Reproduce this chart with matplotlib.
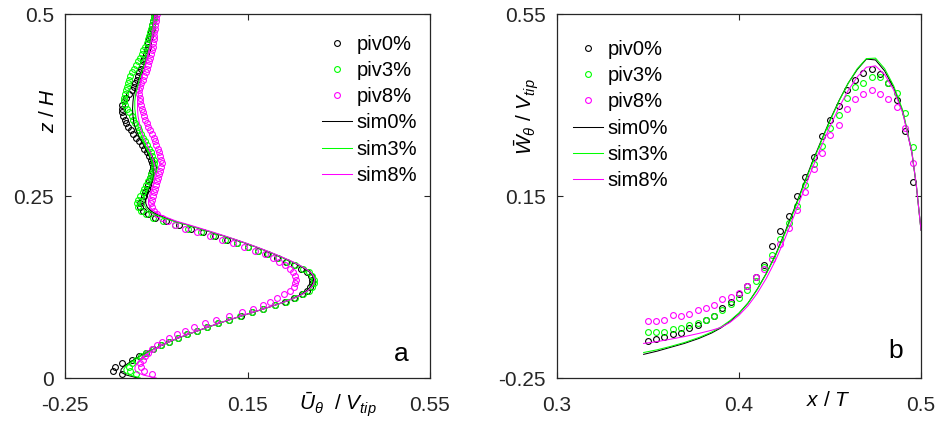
import matplotlib
matplotlib.use("Agg")
import matplotlib.pyplot as plt

plt.rcParams["font.family"] = ["Liberation Sans", "DejaVu Sans"]
plt.rcParams["mathtext.fontset"] = "custom"
plt.rcParams["mathtext.rm"] = "Liberation Sans"
plt.rcParams["mathtext.it"] = "Liberation Sans:italic"

# ---------------- panel a: U_theta profiles over z/H ----------------
z_piv = [0.005, 0.010, 0.015, 0.020, 0.025, 0.030, 0.035, 0.040, 0.045, 0.050,
         0.055, 0.060, 0.065, 0.070, 0.075, 0.080, 0.085, 0.090, 0.095, 0.100,
         0.105, 0.110, 0.115, 0.120, 0.125, 0.130, 0.135, 0.140, 0.145, 0.150,
         0.155, 0.160, 0.165, 0.170, 0.175, 0.180, 0.185, 0.190, 0.195, 0.200,
         0.205, 0.210, 0.215, 0.220, 0.225, 0.230, 0.235, 0.240, 0.245, 0.250,
         0.255, 0.260, 0.265, 0.270, 0.275, 0.280, 0.285, 0.290, 0.295, 0.300,
         0.305, 0.310, 0.315, 0.320, 0.325, 0.330, 0.335, 0.340, 0.345, 0.350,
         0.355, 0.360, 0.365, 0.370, 0.375, 0.380, 0.385, 0.390, 0.395, 0.400,
         0.405, 0.410, 0.415, 0.420, 0.425, 0.430, 0.435, 0.440, 0.445, 0.450,
         0.455, 0.460, 0.465, 0.470, 0.475, 0.480, 0.485, 0.490, 0.495, 0.500]

u_piv0 = [-0.125, -0.145, -0.140, -0.124, -0.104, -0.088, -0.073, -0.057, -0.040, -0.022,
          -0.003, 0.018, 0.040, 0.062, 0.086, 0.110, 0.135, 0.160, 0.185, 0.210,
          0.233, 0.253, 0.269, 0.281, 0.288, 0.292, 0.292, 0.289, 0.281, 0.268,
          0.252, 0.234, 0.214, 0.193, 0.172, 0.150, 0.128, 0.104, 0.079, 0.053,
          0.026, 0.000, -0.028, -0.052, -0.068, -0.079, -0.085, -0.086, -0.081, -0.077,
          -0.074, -0.071, -0.068, -0.066, -0.063, -0.061, -0.059, -0.058, -0.059, -0.062,
          -0.066, -0.071, -0.076, -0.082, -0.088, -0.094, -0.100, -0.106, -0.111, -0.116,
          -0.119, -0.122, -0.124, -0.125, -0.124, -0.121, -0.116, -0.110, -0.104, -0.099,
          -0.096, -0.093, -0.090, -0.087, -0.084, -0.081, -0.079, -0.076, -0.073, -0.071,
          -0.069, -0.067, -0.065, -0.063, -0.062, -0.060, -0.059, -0.057, -0.056, -0.055]

u_piv3 = [-0.095, -0.108, -0.110, -0.104, -0.095, -0.084, -0.072, -0.057, -0.040, -0.022,
          -0.003, 0.018, 0.039, 0.061, 0.085, 0.109, 0.134, 0.160, 0.185, 0.210,
          0.234, 0.255, 0.272, 0.284, 0.292, 0.296, 0.296, 0.292, 0.284, 0.271,
          0.255, 0.236, 0.216, 0.195, 0.173, 0.150, 0.126, 0.101, 0.075, 0.048,
          0.020, -0.008, -0.036, -0.058, -0.073, -0.084, -0.090, -0.092, -0.090, -0.085,
          -0.080, -0.076, -0.072, -0.068, -0.064, -0.061, -0.058, -0.056, -0.055, -0.056,
          -0.059, -0.062, -0.066, -0.071, -0.075, -0.079, -0.083, -0.087, -0.091, -0.096,
          -0.100, -0.104, -0.109, -0.114, -0.118, -0.121, -0.121, -0.119, -0.117, -0.115,
          -0.113, -0.110, -0.107, -0.103, -0.099, -0.095, -0.090, -0.086, -0.082, -0.078,
          -0.074, -0.071, -0.068, -0.065, -0.063, -0.061, -0.059, -0.058, -0.056, -0.055]

u_piv8 = [-0.060, -0.077, -0.083, -0.085, -0.080, -0.074, -0.067, -0.059, -0.049, -0.037,
          -0.022, -0.005, 0.013, 0.032, 0.056, 0.081, 0.109, 0.138, 0.162, 0.184,
          0.200, 0.215, 0.231, 0.243, 0.251, 0.255, 0.256, 0.254, 0.250, 0.243,
          0.233, 0.218, 0.205, 0.188, 0.167, 0.143, 0.119, 0.095, 0.068, 0.040,
          0.014, -0.008, -0.025, -0.038, -0.048, -0.055, -0.059, -0.061, -0.060, -0.057,
          -0.055, -0.053, -0.050, -0.048, -0.046, -0.043, -0.041, -0.039, -0.038, -0.039,
          -0.041, -0.043, -0.046, -0.050, -0.053, -0.056, -0.060, -0.064, -0.068, -0.071,
          -0.074, -0.077, -0.079, -0.081, -0.083, -0.085, -0.086, -0.087, -0.087, -0.086,
          -0.083, -0.080, -0.076, -0.073, -0.070, -0.068, -0.066, -0.064, -0.062, -0.060,
          -0.058, -0.057, -0.056, -0.055, -0.054, -0.053, -0.052, -0.051, -0.050, -0.049]

z_sim = [0.000, 0.004, 0.008, 0.012, 0.016, 0.020, 0.025, 0.030, 0.035, 0.040,
         0.045, 0.050, 0.055, 0.060, 0.065, 0.070, 0.075, 0.080, 0.085, 0.090,
         0.095, 0.100, 0.105, 0.110, 0.115, 0.120, 0.125, 0.130, 0.135, 0.140,
         0.145, 0.150, 0.155, 0.160, 0.165, 0.170, 0.175, 0.180, 0.185, 0.190,
         0.195, 0.200, 0.205, 0.210, 0.215, 0.220, 0.225, 0.230, 0.235, 0.240,
         0.245, 0.250, 0.260, 0.270, 0.280, 0.290, 0.300, 0.310, 0.320, 0.330,
         0.340, 0.350, 0.360, 0.370, 0.380, 0.390, 0.400, 0.410, 0.420, 0.430,
         0.440, 0.450, 0.460, 0.470, 0.480, 0.490, 0.500]

u_sim0 = [-0.090, -0.115, -0.128, -0.127, -0.121, -0.112, -0.099, -0.086, -0.071, -0.055,
          -0.038, -0.020, -0.001, 0.020, 0.042, 0.064, 0.087, 0.111, 0.136, 0.161,
          0.186, 0.210, 0.232, 0.252, 0.268, 0.280, 0.288, 0.293, 0.295, 0.293,
          0.287, 0.276, 0.262, 0.246, 0.228, 0.209, 0.189, 0.168, 0.146, 0.123,
          0.098, 0.072, 0.046, 0.020, -0.008, -0.030, -0.050, -0.063, -0.070, -0.073,
          -0.073, -0.071, -0.066, -0.060, -0.056, -0.057, -0.062, -0.070, -0.078, -0.087,
          -0.094, -0.099, -0.101, -0.102, -0.101, -0.099, -0.094, -0.089, -0.083, -0.077,
          -0.072, -0.067, -0.063, -0.060, -0.058, -0.056, -0.055]

u_sim3 = [-0.085, -0.108, -0.120, -0.121, -0.117, -0.109, -0.097, -0.085, -0.071, -0.055,
          -0.038, -0.020, -0.001, 0.020, 0.042, 0.064, 0.087, 0.111, 0.136, 0.161,
          0.186, 0.211, 0.234, 0.254, 0.271, 0.283, 0.291, 0.296, 0.298, 0.296,
          0.289, 0.278, 0.264, 0.247, 0.229, 0.210, 0.190, 0.169, 0.147, 0.124,
          0.099, 0.073, 0.046, 0.019, -0.010, -0.034, -0.054, -0.067, -0.074, -0.077,
          -0.077, -0.075, -0.068, -0.061, -0.057, -0.057, -0.061, -0.067, -0.074, -0.081,
          -0.087, -0.092, -0.095, -0.097, -0.097, -0.095, -0.091, -0.087, -0.082, -0.077,
          -0.072, -0.067, -0.063, -0.060, -0.058, -0.056, -0.055]

u_sim8 = [-0.050, -0.078, -0.093, -0.097, -0.096, -0.092, -0.085, -0.077, -0.066, -0.053,
          -0.038, -0.021, -0.002, 0.019, 0.041, 0.063, 0.086, 0.110, 0.135, 0.160,
          0.185, 0.210, 0.233, 0.253, 0.270, 0.282, 0.290, 0.295, 0.297, 0.295,
          0.289, 0.278, 0.264, 0.248, 0.230, 0.211, 0.191, 0.170, 0.148, 0.125,
          0.101, 0.076, 0.050, 0.024, -0.004, -0.025, -0.044, -0.057, -0.064, -0.067,
          -0.067, -0.065, -0.060, -0.055, -0.052, -0.053, -0.057, -0.063, -0.070, -0.077,
          -0.083, -0.087, -0.090, -0.091, -0.091, -0.089, -0.086, -0.082, -0.078, -0.074,
          -0.070, -0.066, -0.062, -0.059, -0.057, -0.055, -0.053]

# ---------------- panel b: W_theta along x/T ----------------
x_piv = [0.3498, 0.3544, 0.3589, 0.3635, 0.3680, 0.3726, 0.3772, 0.3817, 0.3863, 0.3908,
         0.3954, 0.4000, 0.4045, 0.4091, 0.4136, 0.4182, 0.4228, 0.4273, 0.4319, 0.4364,
         0.4410, 0.4456, 0.4501, 0.4547, 0.4592, 0.4638, 0.4684, 0.4729, 0.4775, 0.4820,
         0.4866, 0.4912, 0.4957]

w_piv0 = [-0.168, -0.164, -0.160, -0.153, -0.150, -0.141, -0.133, -0.123, -0.113, -0.096,
          -0.082, -0.066, -0.047, -0.028, -0.002, 0.041, 0.074, 0.107, 0.150, 0.191,
          0.235, 0.281, 0.316, 0.348, 0.382, 0.405, 0.420, 0.429, 0.418, 0.399,
          0.361, 0.292, 0.180]

w_piv3 = [-0.148, -0.148, -0.148, -0.142, -0.140, -0.134, -0.129, -0.123, -0.113, -0.100,
          -0.087, -0.074, -0.056, -0.036, -0.006, 0.020, 0.055, 0.090, 0.129, 0.175,
          0.220, 0.259, 0.299, 0.328, 0.365, 0.389, 0.399, 0.411, 0.411, 0.399,
          0.376, 0.332, 0.257]

w_piv8 = [-0.124, -0.124, -0.123, -0.112, -0.113, -0.109, -0.100, -0.096, -0.089, -0.076,
          -0.071, -0.063, -0.047, -0.028, -0.010, 0.012, 0.045, 0.079, 0.120, 0.158,
          0.209, 0.244, 0.284, 0.306, 0.341, 0.363, 0.374, 0.383, 0.374, 0.363,
          0.345, 0.300, 0.223]

x_sim = [0.3476, 0.355, 0.362, 0.370, 0.378, 0.385, 0.390, 0.395, 0.400, 0.405,
         0.410, 0.415, 0.420, 0.425, 0.430, 0.435, 0.440, 0.445, 0.450, 0.455,
         0.460, 0.465, 0.470, 0.475, 0.480, 0.485, 0.490, 0.495, 0.4975, 0.500]

w_sim0 = [-0.198, -0.191, -0.183, -0.174, -0.163, -0.151, -0.140, -0.126, -0.108, -0.085,
          -0.055, -0.020, 0.020, 0.068, 0.118, 0.170, 0.222, 0.270, 0.317, 0.360,
          0.398, 0.428, 0.451, 0.449, 0.425, 0.388, 0.335, 0.245, 0.170, 0.075]

w_sim3 = [-0.194, -0.188, -0.181, -0.172, -0.161, -0.149, -0.138, -0.124, -0.107, -0.085,
          -0.056, -0.021, 0.018, 0.065, 0.115, 0.167, 0.219, 0.268, 0.315, 0.359,
          0.398, 0.430, 0.452, 0.453, 0.430, 0.392, 0.338, 0.248, 0.172, 0.075]

w_sim8 = [-0.174, -0.170, -0.165, -0.159, -0.152, -0.145, -0.139, -0.128, -0.112, -0.091,
          -0.064, -0.031, 0.008, 0.054, 0.104, 0.156, 0.208, 0.257, 0.303, 0.345,
          0.382, 0.412, 0.433, 0.436, 0.417, 0.383, 0.332, 0.245, 0.172, 0.075]

labels = ["piv0%", "piv3%", "piv8%", "sim0%", "sim3%", "sim8%"]
colors = ["#000000", "#00ff00", "#ff00ff"]

fig = plt.figure(figsize=(9.4, 4.28), dpi=100, facecolor="white")
ax1 = fig.add_axes([65 / 940, 50 / 428, 365 / 940, 364 / 428])
ax2 = fig.add_axes([557 / 940, 50 / 428, 364 / 940, 364 / 428])

mk = dict(marker="o", linestyle="none", markersize=4.2, markerfacecolor="none",
          markeredgewidth=0.8)

for u, c, lab in zip([u_piv0, u_piv3, u_piv8], colors, labels[:3]):
    ax1.plot(u, z_piv, color=c, label=lab, **mk)
for u, c, lab in zip([u_sim0, u_sim3, u_sim8], colors, labels[3:]):
    ax1.plot(u, z_sim, color=c, lw=0.75, label=lab)

for w, c, lab in zip([w_piv0, w_piv3, w_piv8], colors, labels[:3]):
    ax2.plot(x_piv, w, color=c, label=lab, **mk)
for w, c, lab in zip([w_sim0, w_sim3, w_sim8], colors, labels[3:]):
    ax2.plot(x_sim, w, color=c, lw=0.75, label=lab)

ax1.set_xlim(-0.25, 0.55)
ax1.set_ylim(0, 0.5)
ax1.set_xticks([-0.25, 0.15, 0.55])
ax1.set_xticklabels(["-0.25", "0.15", "0.55"])
ax1.set_yticks([0, 0.25, 0.5])
ax1.set_yticklabels(["0", "0.25", "0.5"])

ax2.set_xlim(0.3, 0.5)
ax2.set_ylim(-0.25, 0.55)
ax2.set_xticks([0.3, 0.4, 0.5])
ax2.set_xticklabels(["0.3", "0.4", "0.5"])
ax2.set_yticks([-0.25, 0.15, 0.55])
ax2.set_yticklabels(["-0.25", "0.15", "0.55"])

for ax in (ax1, ax2):
    for s in ax.spines.values():
        s.set_linewidth(0.9)
        s.set_color("#262626")
    ax.tick_params(direction="in", length=4, width=0.8, top=True, right=True,
                   labelsize=15, colors="#262626")
    ax.tick_params(axis="x", pad=13)
    ax.tick_params(axis="y", pad=8)

leg_kw = dict(frameon=False, fontsize=14.5, handlelength=1.45, handletextpad=0.25,
              labelspacing=0.36, borderpad=0, borderaxespad=0, numpoints=1)
ax1.legend(loc="upper right", bbox_to_anchor=(0.965, 0.943), **leg_kw)
ax2.legend(loc="upper left", bbox_to_anchor=(0.045, 0.929), **leg_kw)

ax1.text(0.92, 0.065, "a", transform=ax1.transAxes, fontsize=19,
         ha="center", va="center")
ax2.text(0.93, 0.075, "b", transform=ax2.transAxes, fontsize=19,
         ha="center", va="center")

fig.text(49 / 940, 1 - 110 / 428, "$z$ / $H$", rotation=90, fontsize=15,
         ha="center", va="center")
fig.text(338 / 940, 1 - 405 / 428, r"$\bar{U}_{\theta}$  / $V_{tip}$", fontsize=15,
         ha="center", va="center")
fig.text(527 / 940, 1 - 117 / 428, r"$\bar{W}_{\theta}$ / $V_{tip}$", rotation=90,
         fontsize=15, ha="center", va="center")
fig.text(828 / 940, 1 - 400 / 428, "$x$ / $T$", fontsize=15,
         ha="center", va="center")

fig.savefig("out.png", dpi=100)
